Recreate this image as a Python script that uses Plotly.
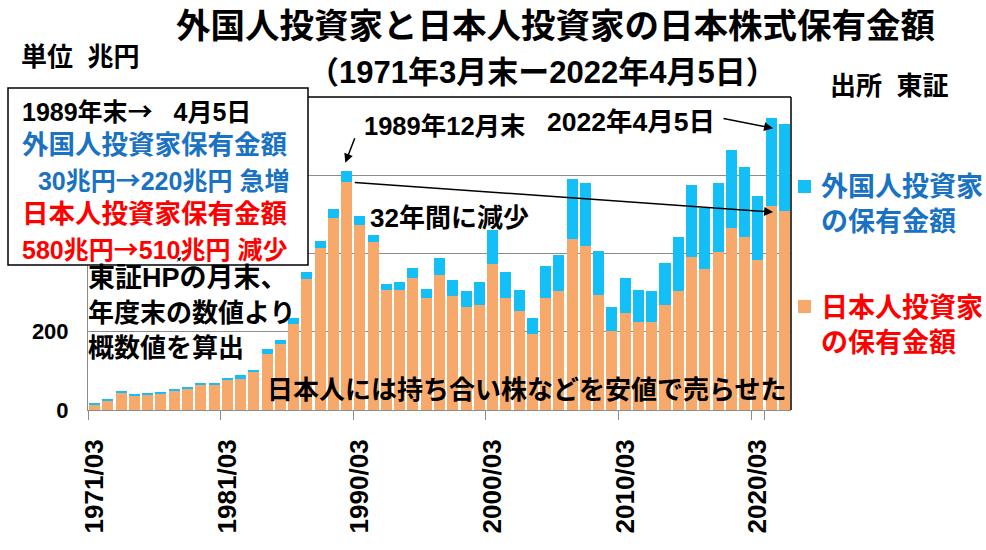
import plotly.graph_objects as go

# ---------------- data ----------------
categories = (
    [f"{y}/03" for y in range(1971, 1990)]
    + ["1989/12"]
    + [f"{y}/03" for y in range(1990, 2022)]
    + ["2022/04"]
)
japanese = [13, 23, 44, 36, 40, 42, 49, 54, 65, 65, 78, 80, 97, 142, 168, 220, 334, 413, 492,
            583, 474, 429, 306, 306, 337, 286, 346, 292, 264, 269, 374, 287, 252, 193, 287, 303,
            436, 418, 294, 201, 249, 226, 226, 269, 305, 392, 361, 405, 464, 441, 384, 522, 509]
foreign = [4, 4, 3, 4, 3, 4, 3, 4, 4, 4, 5, 9, 6, 13, 12, 14, 20, 18, 23,
           29, 23, 19, 17, 20, 27, 24, 42, 41, 41, 59, 87, 67, 56, 41, 80, 94,
           155, 163, 113, 63, 89, 82, 79, 108, 138, 184, 156, 176, 201, 181, 164, 225, 223]
shown_ticks = ["1971/03", "1981/03", "1990/03", "2000/03", "2010/03", "2020/03"]
y_ticks = [0, 200, 400, 600, 800]
y_ticktext = ["0", "200", "", "", ""]

ORANGE = "#F6A96A"
CYAN = "#14BEF6"
BLUE_T = "#1A72C2"
RED_T = "#FF0000"
FONT = "Liberation Sans, Noto Sans CJK JP"
ARW = "<span style=\"font-family:'Noto Sans CJK JP'\">→</span>"
SP = "\u00a0"

# plot area in pixels (for placing free text)
L, R, T, B = 88, 791, 97, 410
W, H = R - L, B - T


def X(px):
    return (px - L) / W


def Y(py):
    return (B - py) / H


fig = go.Figure()
fig.add_bar(x=categories, y=japanese, name="日本人投資家の保有金額",
            marker=dict(color=ORANGE, line=dict(width=0)))
fig.add_bar(x=categories, y=foreign, name="外国人投資家の保有金額",
            marker=dict(color=CYAN, line=dict(width=0)))

fig.update_layout(
    width=986, height=550,
    margin=dict(l=L, r=986 - R, t=T, b=550 - B),
    barmode="stack", bargap=0.17,
    showlegend=False,
    paper_bgcolor="white", plot_bgcolor="white",
    font=dict(family=FONT, size=20, color="black", weight=700),
)
fig.update_xaxes(
    type="category", categoryorder="array", categoryarray=categories,
    tickmode="array", tickvals=shown_ticks, ticktext=shown_ticks,
    tickangle=-90, tickfont=dict(size=26, family=FONT, weight=700),
    ticks="outside", ticklen=9, tickcolor="#8C8C8C", tickson="boundaries",
    ticklabelstandoff=18,
    showline=True, linecolor="#8C8C8C", linewidth=1,
    showgrid=False, range=[-0.5, len(categories) - 0.5],
)
fig.update_yaxes(
    range=[0, 800], tickmode="array", tickvals=y_ticks, ticktext=y_ticktext,
    tickfont=dict(size=22, family=FONT, weight=700),
    showgrid=True, gridcolor="#8C8C8C", gridwidth=1,
    showline=True, linecolor="#8C8C8C", linewidth=1,
    ticks="", ticklabelstandoff=14, zeroline=False,
)

shapes = [
    dict(type="line", xref="paper", yref="paper", x0=0, x1=1, y0=1, y1=1,
         line=dict(color="black", width=1.5)),
    dict(type="line", xref="paper", yref="paper", x0=1, x1=1, y0=0, y1=1,
         line=dict(color="black", width=1.5)),
    dict(type="rect", xref="paper", yref="paper", layer="above",
         x0=X(8), x1=X(308), y0=Y(265), y1=Y(88),
         fillcolor="white", line=dict(color="black", width=1.5)),
    dict(type="rect", xref="paper", yref="paper", layer="above",
         x0=X(798), x1=X(811), y0=Y(193), y1=Y(180),
         fillcolor=CYAN, line=dict(width=0)),
    dict(type="rect", xref="paper", yref="paper", layer="above",
         x0=X(798), x1=X(811), y0=Y(313), y1=Y(300),
         fillcolor=ORANGE, line=dict(width=0)),
]
fig.update_layout(shapes=shapes)

ann = []


def txt(text, px, py, size, color="black", anchor="left"):
    ann.append(dict(text=text, xref="paper", yref="paper", x=X(px), y=Y(py),
                    xanchor=anchor, yanchor="middle", showarrow=False,
                    font=dict(size=size, color=color, family=FONT, weight=700)))


txt("外国人投資家と日本人投資家の日本株式保有金額", 555, 26, 34.5, anchor="center")
txt("（1971年3月末ー2022年4月5日）", 542, 73, 31, anchor="center")
txt("単位" + SP * 2 + "兆円", 19, 57, 26)
txt("出所" + SP * 2 + "東証", 828, 86, 26)

# box text
txt("1989年末" + ARW + SP * 3 + "4月5日", 20, 110, 25)
txt("外国人投資家保有金額", 20, 145, 26.5, BLUE_T)
txt(SP * 2 + "30兆円" + ARW + "220兆円 急増", 22, 179, 25, BLUE_T)
txt("日本人投資家保有金額", 20, 214, 26.5, RED_T)
txt("580兆円" + ARW + "510兆円 減少", 20, 248, 25, RED_T)

# note text
txt("東証HPの月末、", 86, 278, 27)
txt("年度末の数値より", 86, 313, 26)
txt("概数値を算出", 86, 348, 26)
txt("日本人には持ち合い株などを安値で売らせた", 265, 390, 26)

txt("1989年12月末", 362, 126, 25.5)
txt("32年間に減少", 368, 218, 26)
txt("2022年4月5日", 545, 122, 26.5)

# legend text
txt("外国人投資家", 819, 187, 27, BLUE_T)
txt("の保有金額", 819, 222, 27, BLUE_T)
txt("日本人投資家", 819, 308, 27, RED_T)
txt("の保有金額", 819, 343, 27, RED_T)

# arrows
ann.append(dict(x=18.9, y=632, xref="x", yref="y", ax=10, ay=-26,
                text="", showarrow=True, arrowhead=2, arrowsize=1.2,
                arrowwidth=1.5, arrowcolor="black"))
ann.append(dict(x=51.15, y=506, xref="x", yref="y", axref="x", ayref="y",
                ax=19.5, ay=582, text="", showarrow=True, arrowhead=2,
                arrowsize=1.2, arrowwidth=1.5, arrowcolor="black"))
ann.append(dict(x=51.15, y=720, xref="x", yref="y", axref="x", ayref="y",
                ax=47.3, ay=746, text="", showarrow=True, arrowhead=2,
                arrowsize=1.2, arrowwidth=1.5, arrowcolor="black"))
ann.append(dict(x=X(181), y=Y(257), xref="paper", yref="paper", ax=-5, ay=6,
                text="", showarrow=True, arrowhead=2, arrowsize=0.8,
                arrowwidth=1, arrowcolor="black"))

fig.update_layout(annotations=ann)
fig.write_html("out.html")
